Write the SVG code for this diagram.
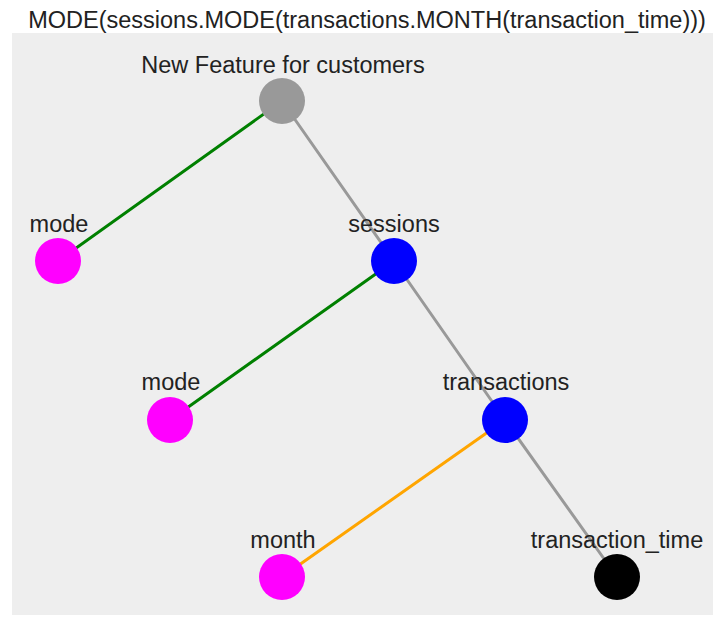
<svg xmlns="http://www.w3.org/2000/svg" width="713" height="617" viewBox="0 0 713 617">
<style>
text{font-family:"Liberation Sans",Arial,sans-serif;font-size:23.5px;fill:#222;text-anchor:middle}
.e{stroke-width:3;stroke-linecap:round;fill:none}
.g{stroke:#008000}.o{stroke:#ffa500}.y{stroke:#999}
</style>
<rect width="713" height="617" fill="#ffffff"/>
<rect x="12" y="33" width="701" height="582" fill="#eeeeee"/>
<text x="367" y="28" font-size="23px">MODE(sessions.MODE(transactions.MONTH(transaction_time)))</text>
<g id="connectors">
<line class="e g" x1="282" y1="101" x2="58" y2="261"/>
<line class="e y" x1="282" y1="101" x2="394" y2="261"/>
<line class="e g" x1="394" y1="261" x2="170" y2="420"/>
<line class="e y" x1="394" y1="261" x2="505" y2="420"/>
<line class="e o" x1="505" y1="420" x2="282" y2="577"/>
<line class="e y" x1="505" y1="420" x2="617" y2="577"/>
</g>
<g id="root"><circle cx="282" cy="101" r="23" fill="#999999"/><text x="283" y="73">New Feature for customers</text></g>
<g id="mode1"><circle cx="58" cy="261" r="23" fill="#ff00ff"/><text x="59" y="232">mode</text></g>
<g id="sessions"><circle cx="394" cy="261" r="23" fill="#0000ff"/><text x="394" y="232">sessions</text></g>
<g id="mode2"><circle cx="170" cy="420" r="23" fill="#ff00ff"/><text x="171" y="390">mode</text></g>
<g id="transactions"><circle cx="505" cy="420" r="23" fill="#0000ff"/><text x="506" y="390">transactions</text></g>
<g id="month"><circle cx="282" cy="577" r="23" fill="#ff00ff"/><text x="283" y="548">month</text></g>
<g id="transaction_time"><circle cx="617" cy="577" r="23" fill="#000000"/><text x="617" y="548">transaction_time</text></g>
</svg>
